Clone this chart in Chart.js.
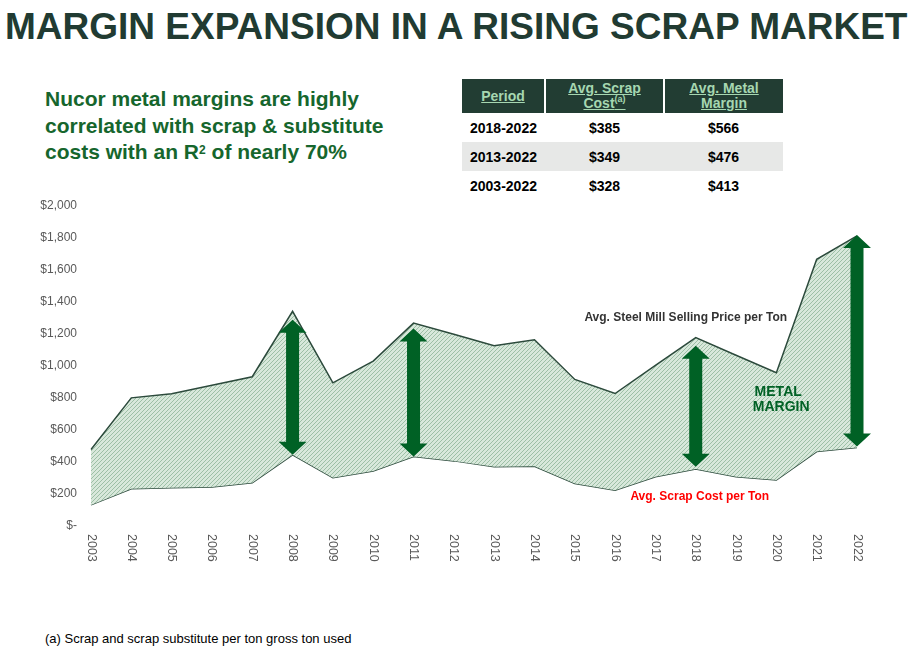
<!DOCTYPE html>
<html><head><meta charset="utf-8">
<script src="https://cdn.jsdelivr.net/npm/chart.js@4/dist/chart.umd.min.js"></script>
<style>
html,body{margin:0;padding:0;background:#fff;}
body{width:913px;height:653px;position:relative;overflow:hidden;font-family:"Liberation Sans",Arial,sans-serif;}
#title{position:absolute;left:5px;top:6px;font-size:37px;font-weight:bold;color:#213b32;white-space:nowrap;letter-spacing:0px;}
#sub{position:absolute;left:45px;top:86px;font-size:21px;font-weight:bold;color:#16662d;line-height:26.5px;}
#sub sup{font-size:12px;vertical-align:top;position:relative;top:-2px;}
#tbl{position:absolute;left:462px;top:79px;border-collapse:collapse;font-size:14px;font-weight:bold;}
#tbl th{background:#223d33;color:#a6d7b1;text-decoration:underline;font-size:14px;line-height:15px;height:34px;padding:0;border-right:2px solid #ffffff;}
#tbl th sup{font-size:9px;line-height:0;}
#tbl td{text-align:center;height:29px;padding:0;color:#000;}
#tbl tr.g td{background:#e7e8e7;}
#foot{position:absolute;left:45px;top:631px;font-size:13px;color:#000;}
#wrap{position:absolute;left:0;top:190px;width:913px;height:400px;}
</style></head>
<body>
<div id="title">MARGIN EXPANSION IN A RISING SCRAP MARKET</div>
<div id="sub">Nucor metal margins are highly<br>correlated with scrap &amp; substitute<br>costs with an R<sup>2</sup> of nearly 70%</div>
<table id="tbl">
<tr><th style="width:82px">Period</th><th style="width:117px">Avg. Scrap<br>Cost<sup>(a)</sup></th><th style="width:118px;border-right:none">Avg. Metal<br>Margin</th></tr>
<tr><td>2018-2022</td><td>$385</td><td>$566</td></tr>
<tr class="g"><td>2013-2022</td><td>$349</td><td>$476</td></tr>
<tr><td>2003-2022</td><td>$328</td><td>$413</td></tr>
</table>
<div id="wrap"><canvas id="c" width="913" height="400"></canvas></div>
<div id="foot">(a) Scrap and scrap substitute per ton gross ton used</div>
<script>
const years = ["2003","2004","2005","2006","2007","2008","2009","2010","2011","2012","2013","2014","2015","2016","2017","2018","2019","2020","2021","2022"];
const sellingPrice = [478,801,826,880,933,1342,895,1031,1268,1199,1126,1164,916,828,1004,1178,1067,958,1667,1813];
const scrapCost = [132,233,239,243,270,445,302,344,434,407,371,373,266,224,308,356,308,287,465,491];
const yTicks = [0,200,400,600,800,1000,1200,1400,1600,1800,2000];
const arrowYears = ["2008","2011","2018","2022"];
const arrowTop = [1289,1235,1126,1818];
const arrowBottom = [445,434,371,497];

function makePattern(){
  const p=document.createElement('canvas');p.width=4;p.height=4;
  const g=p.getContext('2d');
  g.fillStyle='#d8e8db';g.fillRect(0,0,4,4);
  g.strokeStyle='#9dbfa6';g.lineWidth=1;
  g.beginPath();g.moveTo(0,4);g.lineTo(4,0);g.moveTo(-1,1);g.lineTo(1,-1);g.moveTo(3,5);g.lineTo(5,3);g.stroke();
  return g.createPattern(p,'repeat');
}
const ctx=document.getElementById('c').getContext('2d');

const overlay={
  id:'overlay',
  afterDatasetsDraw(chart){
    const c=chart.ctx, xs=chart.scales.x, ys=chart.scales.y;
    c.save();
    c.fillStyle='#006125';
    arrowYears.forEach((yr,i)=>{
      const x=xs.getPixelForValue(years.indexOf(yr));
      const t=ys.getPixelForValue(arrowTop[i]), b=ys.getPixelForValue(arrowBottom[i]);
      const hw=14, sw=6.5, hh=13;
      c.beginPath();
      c.moveTo(x,t);c.lineTo(x+hw,t+hh);c.lineTo(x+sw,t+hh);c.lineTo(x+sw,b-hh);c.lineTo(x+hw,b-hh);
      c.lineTo(x,b);c.lineTo(x-hw,b-hh);c.lineTo(x-sw,b-hh);c.lineTo(x-sw,t+hh);c.lineTo(x-hw,t+hh);c.closePath();
      c.fill();
    });
    // x labels rotated clockwise
    c.fillStyle='#595959';c.font='12.5px "Liberation Sans", Arial, sans-serif';
    c.textAlign='left';c.textBaseline='middle';
    years.forEach((yr,i)=>{
      const x=xs.getPixelForTick(i);
      c.save();c.translate(x,ys.bottom+8);c.rotate(Math.PI/2);c.fillText(yr,0,0);c.restore();
    });
    // annotations
    c.textBaseline='middle';c.textAlign='center';
    c.font='bold 12px "Liberation Sans", Arial, sans-serif';c.fillStyle='#333333';
    const x2018=xs.getPixelForValue(years.indexOf("2018"));
    c.fillText('Avg. Steel Mill Selling Price per Ton',x2018-10,ys.getPixelForValue(1305));
    c.fillStyle='#ff0000';
    c.fillText('Avg. Scrap Cost per Ton',x2018+4,ys.getPixelForValue(182));
    c.fillStyle='#006125';c.font='bold 14px "Liberation Sans", Arial, sans-serif';
    const x19=(xs.getPixelForValue(years.indexOf("2019"))+xs.getPixelForValue(years.indexOf("2020")))/2+24;
    c.fillText('METAL',x19-2,ys.getPixelForValue(838));
    c.fillText('MARGIN',x19+1,ys.getPixelForValue(740));
    c.restore();
  }
};

new Chart(ctx,{
  type:'line',
  data:{labels:years,datasets:[
    {label:'Avg. Steel Mill Selling Price per Ton',data:sellingPrice,borderColor:'#2c4a3c',borderWidth:1.5,pointRadius:0,fill:'+1',backgroundColor:makePattern(),tension:0},
    {label:'Avg. Scrap Cost per Ton',data:scrapCost,borderColor:'#2c4a3c',borderWidth:1.5,pointRadius:0,fill:false,tension:0}
  ]},
  options:{
    responsive:false,animation:false,
    layout:{padding:{top:16,right:56,left:0,bottom:0}},
    plugins:{legend:{display:false},tooltip:{enabled:false}},
    scales:{
      x:{offset:false,grid:{display:false,drawTicks:false},border:{display:false},
         ticks:{color:'rgba(0,0,0,0)',maxRotation:90,minRotation:90,autoSkip:false},
         afterFit(s){s.height=64;}},
      y:{min:0,max:2000,grid:{display:false,drawTicks:true,tickLength:11},border:{display:false},
         afterBuildTicks(s){s.ticks=yTicks.map(v=>({value:v}));},
         ticks:{color:'#595959',padding:3,font:{family:'"Liberation Sans", Arial, sans-serif',size:12},
           callback(v){return v===0?'$-':'$'+v.toLocaleString('en-US');}},
         afterFit(s){s.width=91;}}
    }
  },
  plugins:[overlay]
});
</script>
</body></html>
